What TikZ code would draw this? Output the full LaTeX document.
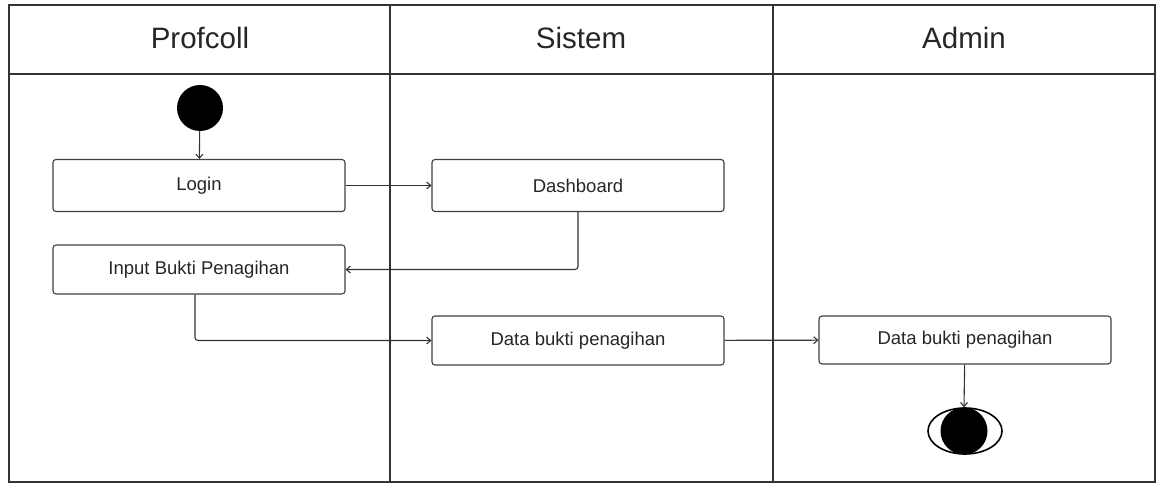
\documentclass[tikz,border=0pt]{standalone}
\usepackage{fontspec}
\setmainfont{Liberation Sans}
\usetikzlibrary{arrows.meta,shapes.geometric}
\begin{document}
\begin{tikzpicture}[x=1pt,y=-1pt,
  lane/.style={draw=black!80,line width=1.6pt},
  act/.style={draw=black!75,line width=1.1pt,rounded corners=3pt,minimum width=292pt,minimum height=52pt,inner sep=0pt,font=\fontsize{18.5}{21}\selectfont,text=black!85},
  head/.style={font=\fontsize{29.5}{32}\selectfont,text=black!85},
  flow/.style={draw=black!80,line width=1.1pt,-{Straight Barb[length=4pt,width=7pt]},rounded corners=3pt}]
\useasboundingbox (0,0) rectangle (1158,484);
% frame and lanes
\draw[lane] (9,5) rectangle (1155,482);
\draw[lane] (9,74) -- (1155,74);
\draw[lane] (390,5) -- (390,482);
\draw[lane] (773,5) -- (773,482);
\node[head] (h1) at (200,38) {Profcoll};
\node[head] (h2) at (581,38) {Sistem};
\node[head] (h3) at (964,38) {Admin};
% nodes
\node[circle,fill=black,minimum size=46pt,inner sep=0pt] (start) at (200,108) {};
\node[act] (login) at (199,185.5) {Login};
\node[act,minimum height=49pt] (input) at (199,269.5) {Input Bukti Penagihan};
\node[act] (dash) at (578,185.5) {Dashboard};
\node[act,minimum height=49pt] (data1) at (578,340.5) {Data bukti penagihan};
\node[act,minimum height=48pt] (data2) at (965,340) {Data bukti penagihan};
\node[ellipse,draw=black,line width=1.6pt,minimum width=74pt,minimum height=46pt,inner sep=0pt] (endo) at (965,431) {};
\node[circle,fill=black,minimum size=47pt,inner sep=0pt] (endi) at (964,431) {};
% connectors
\draw[flow] (start) -- (login);
\draw[flow] (login) -- (dash);
\draw[flow] (dash.south) |- (input.east);
\draw[flow] ([xshift=-4pt]input.south) |- (data1.west);
\draw[flow] (data1) -- (data2);
\draw[flow] (data2) -- (endi.north);
\end{tikzpicture}
\end{document}
